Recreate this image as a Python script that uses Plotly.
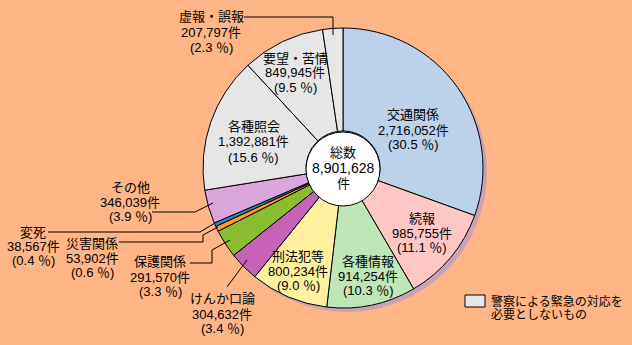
import plotly.graph_objects as go

# ---- data ----
categories = ["交通関係", "続報", "各種情報", "刑法犯等", "けんか口論", "保護関係",
              "災害関係", "変死", "その他", "各種照会", "要望・苦情", "虚報・誤報"]
counts = [2716052, 985755, 914254, 800234, 304632, 291570,
          53902, 38567, 346039, 1392881, 849945, 207797]
percents = [30.5, 11.1, 10.3, 9.0, 3.4, 3.3, 0.6, 0.4, 3.9, 15.6, 9.5, 2.3]
total = 8901628
legend_text = ["警察による緊急の対応を", "必要としないもの"]

colors = ["#bcd2ea", "#ffc6c6", "#bfe6b6", "#fff0a0", "#c862b8", "#8abd32",
          "#ff9c12", "#2a88c8", "#dba6db", "#e6e6e6", "#e6e6e6", "#e6e6e6"]

W, H = 632, 345
BG = "#ffb585"


def px(x):
    return x / W


def py(y):
    return 1 - y / H


cx, cy, R = 343, 168, 140
hole_r = 37

fig = go.Figure()
fig.add_trace(go.Pie(
    labels=categories, values=counts, sort=False, direction="clockwise",
    rotation=0, hole=hole_r / R,
    marker=dict(colors=colors, line=dict(color="black", width=1)),
    textinfo="none", hoverinfo="label+value+percent", showlegend=False,
    domain=dict(x=[px(cx - R), px(cx + R)], y=[py(cy + R), py(cy - R)]),
))

shapes = []
# shadow
shapes.append(dict(type="circle", xref="paper", yref="paper", layer="below",
                   x0=px(cx - R + 4), x1=px(cx + R + 4), y0=py(cy + R + 4), y1=py(cy - R + 4),
                   fillcolor="#c9a2b4", line=dict(width=0)))
# center disc
shapes.append(dict(type="circle", xref="paper", yref="paper", layer="above",
                   x0=px(cx - hole_r), x1=px(cx + hole_r), y0=py(cy + hole_r + 1), y1=py(cy - hole_r + 1),
                   fillcolor="white", line=dict(color="black", width=1)))


def path(pts):
    return dict(type="path", xref="paper", yref="paper", layer="above",
                path="M " + " L ".join(f"{px(x)},{py(y)}" for x, y in pts),
                line=dict(color="black", width=1))


# leader lines
shapes.append(path([(244, 17), (333, 17), (333, 35)]))          # 虚報・誤報
shapes.append(path([(152, 212), (195, 212), (213, 203)]))       # その他
shapes.append(path([(48, 232), (200, 232), (215, 223)]))        # 変死
shapes.append(path([(119, 242), (203, 242), (203, 235), (218, 227)]))  # 災害関係
shapes.append(path([(190, 263), (212, 263), (212, 250), (230, 240)]))  # 保護関係
shapes.append(path([(227, 287), (247, 260)]))                   # けんか口論
# legend box
shapes.append(dict(type="rect", xref="paper", yref="paper", layer="above",
                   x0=px(465), x1=px(485), y0=py(307), y1=py(295),
                   fillcolor="#e6e6e6", line=dict(color="black", width=1)))

FONT = "Liberation Sans, Noto Sans CJK JP"


def label_lines(i):
    return [categories[i], f"{counts[i]:,}件", f"({percents[i]:.1f} ％)"]


# (center x, y of each of the three lines)
label_pos = {
    0: (413, (115, 130, 144)),
    1: (422, (218, 233, 247)),
    2: (368, (261, 276, 290)),
    3: (298, (256, 271, 285)),
    4: (222, (298, 314, 328)),
    5: (160, (261, 277, 291)),
    6: (92, (243, 258, 272)),
    7: (33, (232, 246, 260)),
    8: (130, (187, 202, 216)),
    9: (254, (126, 142, 157)),
    10: (295, (58, 73, 87)),
    11: (211, (17, 32, 47)),
}

annotations = []


def add_text(x, y, text, size=13, anchor="center"):
    annotations.append(dict(xref="paper", yref="paper", x=px(x), y=py(y),
                            text=text, showarrow=False, borderpad=0,
                            xanchor=anchor, yanchor="middle",
                            font=dict(family=FONT, size=size, color="black")))


for i, (x, ys) in label_pos.items():
    for line, y in zip(label_lines(i), ys):
        add_text(x, y, line)

add_text(cx, 152, "総数", size=13)
add_text(cx, 168, f"{total:,}", size=14)
add_text(cx, 183, "件", size=13)

add_text(490, 301, legend_text[0], size=12, anchor="left")
add_text(490, 315, legend_text[1], size=12, anchor="left")

fig.update_layout(
    width=W, height=H, margin=dict(l=0, r=0, t=0, b=0),
    paper_bgcolor=BG, plot_bgcolor=BG,
    shapes=shapes, annotations=annotations,
)

fig.write_html("out.html")
